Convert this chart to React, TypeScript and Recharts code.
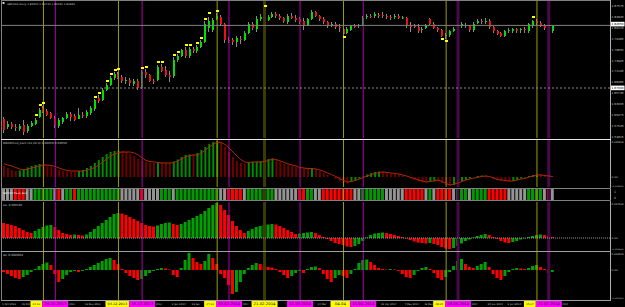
import React from 'react'
import { ComposedChart, Bar, Line, Scatter, XAxis, YAxis, ReferenceLine, Cell } from 'recharts'

// GBPCAD daily bars: [open, high, low, close]
const candles: number[][] = [
  [1.5925, 1.5975, 1.5575, 1.565], [1.5725, 1.5875, 1.5675, 1.58], [1.58, 1.585, 1.5675, 1.5725], [1.5725, 1.58, 1.5625, 1.57],
  [1.5675, 1.58, 1.5625, 1.575], [1.5775, 1.59, 1.5525, 1.56], [1.5625, 1.58, 1.5575, 1.575], [1.575, 1.5875, 1.5725, 1.5825],
  [1.58, 1.595, 1.5775, 1.59], [1.5975, 1.62, 1.595, 1.615], [1.62, 1.625, 1.6075, 1.61], [1.6125, 1.6175, 1.6, 1.6025],
  [1.6075, 1.61, 1.5925, 1.595], [1.595, 1.6, 1.57, 1.5775], [1.575, 1.595, 1.57, 1.59], [1.585, 1.5975, 1.58, 1.595],
  [1.595, 1.61, 1.5925, 1.605], [1.605, 1.61, 1.5875, 1.5975], [1.6, 1.605, 1.5875, 1.59], [1.5925, 1.62, 1.5925, 1.6025],
  [1.6025, 1.61, 1.595, 1.6], [1.6, 1.615, 1.595, 1.61], [1.6075, 1.625, 1.6025, 1.62], [1.6175, 1.6425, 1.6125, 1.64],
  [1.645, 1.6525, 1.6325, 1.6375], [1.64, 1.67, 1.6375, 1.665], [1.665, 1.6825, 1.6625, 1.6775], [1.6775, 1.7, 1.675, 1.695],
  [1.695, 1.71, 1.69, 1.705], [1.705, 1.71, 1.6925, 1.695], [1.6975, 1.7025, 1.6825, 1.6875], [1.6875, 1.6975, 1.68, 1.69],
  [1.69, 1.695, 1.675, 1.6825], [1.68, 1.6925, 1.675, 1.6875], [1.6875, 1.6925, 1.665, 1.67], [1.67, 1.715, 1.6675, 1.71],
  [1.71, 1.7175, 1.695, 1.7025], [1.7025, 1.705, 1.685, 1.6875], [1.6875, 1.6925, 1.68, 1.685], [1.69, 1.7275, 1.6875, 1.7225],
  [1.7225, 1.73, 1.71, 1.7125], [1.715, 1.725, 1.6975, 1.7025], [1.7025, 1.7125, 1.685, 1.6975], [1.7, 1.7475, 1.695, 1.74],
  [1.74, 1.755, 1.735, 1.75], [1.75, 1.7675, 1.7475, 1.765], [1.765, 1.7725, 1.745, 1.75], [1.75, 1.7725, 1.745, 1.7675],
  [1.7675, 1.7725, 1.7575, 1.7625], [1.7625, 1.7775, 1.7575, 1.7725], [1.7725, 1.79, 1.77, 1.785], [1.785, 1.8375, 1.7825, 1.83],
  [1.82, 1.8475, 1.81, 1.8375], [1.815, 1.845, 1.81, 1.84], [1.8425, 1.8575, 1.84, 1.85], [1.8475, 1.8525, 1.825, 1.83],
  [1.83, 1.8325, 1.7825, 1.79], [1.79, 1.7975, 1.7825, 1.7888], [1.79, 1.795, 1.7775, 1.785], [1.785, 1.8, 1.7725, 1.795],
  [1.7925, 1.8, 1.78, 1.79], [1.79, 1.8125, 1.7875, 1.8075], [1.8075, 1.835, 1.805, 1.83], [1.83, 1.835, 1.815, 1.82],
  [1.8175, 1.85, 1.81, 1.8425], [1.8425, 1.855, 1.8375, 1.8475], [1.8475, 1.8525, 1.8375, 1.8425], [1.84, 1.8525, 1.8375, 1.8475],
  [1.8475, 1.86, 1.845, 1.855], [1.855, 1.86, 1.845, 1.85], [1.85, 1.855, 1.84, 1.845], [1.845, 1.8475, 1.8325, 1.8375],
  [1.835, 1.855, 1.83, 1.85], [1.85, 1.8575, 1.8425, 1.845], [1.845, 1.8525, 1.835, 1.84], [1.8425, 1.8475, 1.83, 1.835],
  [1.8375, 1.845, 1.815, 1.825], [1.8275, 1.845, 1.825, 1.8425], [1.8425, 1.865, 1.84, 1.86], [1.86, 1.8625, 1.8475, 1.85],
  [1.85, 1.8525, 1.8375, 1.8425], [1.8425, 1.8475, 1.83, 1.835], [1.835, 1.8375, 1.82, 1.825], [1.8275, 1.835, 1.8225, 1.83],
  [1.83, 1.835, 1.8175, 1.8225], [1.8225, 1.83, 1.81, 1.82], [1.8175, 1.8225, 1.8025, 1.805], [1.8075, 1.8225, 1.805, 1.8175],
  [1.815, 1.8275, 1.8125, 1.825], [1.825, 1.83, 1.82, 1.8238], [1.825, 1.83, 1.82, 1.8275], [1.8275, 1.85, 1.825, 1.845],
  [1.8475, 1.855, 1.8425, 1.85], [1.85, 1.855, 1.845, 1.8488], [1.85, 1.86, 1.845, 1.855], [1.8525, 1.8575, 1.845, 1.8513],
  [1.8525, 1.86, 1.845, 1.85], [1.85, 1.855, 1.8425, 1.8475], [1.8475, 1.8525, 1.84, 1.8463], [1.8475, 1.855, 1.8425, 1.85],
  [1.85, 1.855, 1.8425, 1.845], [1.845, 1.85, 1.8425, 1.8463], [1.845, 1.8475, 1.82, 1.825], [1.8275, 1.835, 1.81, 1.8225],
  [1.825, 1.83, 1.82, 1.8225], [1.8225, 1.83, 1.8075, 1.8125], [1.815, 1.8225, 1.8075, 1.8175], [1.82, 1.83, 1.8175, 1.8275],
  [1.8425, 1.845, 1.8275, 1.83], [1.83, 1.835, 1.8175, 1.82], [1.82, 1.8225, 1.81, 1.815], [1.815, 1.8175, 1.7975, 1.8],
  [1.8, 1.8075, 1.7925, 1.8025], [1.8025, 1.815, 1.7975, 1.8125], [1.8125, 1.8225, 1.81, 1.8175], [1.8175, 1.8275, 1.815, 1.825],
  [1.825, 1.835, 1.82, 1.83], [1.8275, 1.8325, 1.82, 1.825], [1.825, 1.8275, 1.81, 1.815], [1.815, 1.835, 1.81, 1.83],
  [1.8325, 1.8425, 1.83, 1.8375], [1.8375, 1.8425, 1.83, 1.835], [1.835, 1.845, 1.83, 1.8375], [1.8375, 1.8425, 1.8175, 1.8225],
  [1.8225, 1.825, 1.8075, 1.8125], [1.8125, 1.815, 1.8025, 1.805], [1.8075, 1.81, 1.7975, 1.8], [1.8, 1.815, 1.7975, 1.8125],
  [1.8125, 1.82, 1.8075, 1.815], [1.8125, 1.82, 1.8075, 1.8175], [1.8175, 1.82, 1.8075, 1.8138], [1.815, 1.82, 1.8075, 1.8175],
  [1.8175, 1.8225, 1.8075, 1.815], [1.8125, 1.8325, 1.8075, 1.83], [1.8275, 1.84, 1.82, 1.8375], [1.8375, 1.8425, 1.8275, 1.8325],
  [1.8325, 1.8375, 1.8225, 1.825], [1.825, 1.83, 1.815, 1.82], [1.82, 1.8225, 1.81, 1.8125], [1.8125, 1.8275, 1.8075, 1.8265],
]

// yellow fractal marks: [bar index, price]
const fractalMarks: number[][] = [
  [8, 1.6025], [9, 1.6275], [10, 1.6325], [23, 1.6475], [24, 1.6575], [26, 1.6875], [27, 1.705], [28, 1.715], [29, 1.7175],
  [35, 1.72], [36, 1.7225], [39, 1.735], [40, 1.735], [43, 1.7525], [44, 1.76], [46, 1.7775], [47, 1.7775], [49, 1.7825],
  [50, 1.795], [51, 1.8425], [52, 1.8575], [54, 1.8625], [66, 1.875], [86, 1.7975], [111, 1.7925], [112, 1.7875], [134, 1.8475],
]

// indicator values, in thousandths
const macdMilli = [
  11, 9, 7, 6, 6.5, 8, 9.5, 11, 12, 13, 13, 12, 10.5, 8.5, 7, 6, 5.5, 5.5, 5.5, 6,
  7, 9, 11, 14, 17, 20, 23, 25, 26, 26.5, 26, 25, 23.5, 21, 18, 16, 15, 14.5, 14, 14.5,
  14.5, 14, 14, 15.5, 17.5, 20, 22, 22.5, 22.5, 24, 27, 30, 33, 35, 36, 34, 30, 25, 20, 16,
  14, 13.5, 14.5, 15, 15.5, 16, 17, 18, 18.5, 17, 15, 13, 12, 11, 10, 9, 8.5, 8.5, 9, 8,
  6, 4, 2, 0, -2, -4, -6, -6.5, -5, -3.5, -1.5, 0.5, 2.5, 4, 5, 5.5, 5.5, 4.5, 3.5, 3,
  2.5, 1.5, 0, -1.5, -3, -4.5, -5.5, -5.5, -4.5, -4, -4, -6, -8, -9, -8, -6.5, -4.5, -3, -1.5, 0,
  1, 1.5, 1.5, 0, -2, -3.5, -4, -4.5, -4.5, -4, -3, -1.5, -0.5, 1, 2, 2.5, 2.5, 2, 1, 0.5,
]
const signalMilli = [
  13.5, 12, 11, 9.5, 8, 7, 8, 9, 10, 11, 12, 12, 11.5, 10.5, 9, 7.5, 6.5, 6, 6, 6,
  6, 6.5, 8, 9.5, 12, 15, 18, 21, 23, 24.5, 25, 25, 25, 24, 22, 19, 16.5, 15.5, 15, 14.5,
  14, 14, 14, 14.5, 16, 18, 20, 21.5, 22, 22, 24, 27, 30, 32.5, 35, 34.5, 32.5, 29, 25, 21,
  17.5, 15, 14.5, 15, 15, 15, 15.5, 16.5, 18, 17.5, 16, 14.5, 13, 12, 11, 9.5, 9, 8.5, 8.5, 8,
  7, 5.5, 4, 2.5, 0.5, -1.5, -3.5, -5, -4.5, -3.5, -2, -0.5, 1, 2.5, 3.5, 4.5, 5, 4.5, 4, 3.5,
  3, 2, 1, -0.5, -1.5, -3, -4, -5, -4.5, -4, -3, -4.5, -6.5, -8, -7, -6, -4.5, -3, -2, -1,
  -0.5, 0.5, 1, 0.5, -1, -2.5, -3, -3.5, -4, -4, -3, -2, -1.5, 0, 1, 2, 2, 1.5, 1, 0.5,
]
const aoMilli = [
  15, 14, 13, 12, 10, 8, 6, 5, 7, 9, 11, 12.5, 13, 11, 8, 5, 4, 3, 3.5, 3,
  2.5, 3.5, 6, 9, 12, 15, 18, 21, 24, 25, 24.5, 23, 21, 19, 17, 15, 13, 12, 11.5, 12.5,
  14, 15, 15.5, 14, 13, 14, 16, 18, 20, 22, 24, 27, 30, 33, 35, 33, 28, 23, 17, 12,
  8, 5, 7, 9, 11, 12, 13, 13.5, 14, 13.5, 12, 10, 8, 6, 4, 4.5, 5, 5.5, 6, 5,
  3, 1, -1, -3, -5, -6, -7, -8.5, -9, -8, -6, -3, 0.5, 3, 4.5, 5, 5.5, 5, 4, 3,
  2, 1, -0.5, -2, -3.5, -4.5, -5, -5.5, -5, -6, -7, -9, -10.5, -11, -10, -8, -5.5, -3, -1.5, 0.5,
  2, 3, 4, 3, 1, -1, -3, -4.5, -5, -4, -3, -1.5, -0.5, 1, 2, 3, 3.5, 3, 2, 1,
]
const acMilli = [
  -2, -4, -6, -8, -9, -7, -5, -2, 1, 4, 6, 7.5, 5, -4, -12, -9, -5, -2, -1, -2,
  -1, 1, 3, 5, 7, 9, 11, 12, 10, 6, 1, -3, -6, -8, -10, -9, -6, -3, -1, 1,
  2, 1.5, 0.5, -5, -7, 2, 10, 17, 12, 8, 6, 9, 16, 12, 6, -4, -8, -15, -24, -22,
  -12, -4, 2, 5, 7, 6, 4, 3, 2.5, 1, -2, -5, -8, -6, -3, -1, -3, 1, 3, 3.5,
  2, -4, -9, -12, -8, -5, -6, -8, -4, 1, 7, 10, 10.5, 8, 5, 2, 1, 0.5, 1, 0.5,
  -1, -4, -7, -8, -5, -1, 2, 3, 1, -3, -8, -10, -7, -2, 4, 9, 11, 6, 3, 2,
  4, 6, 8, 3, -4, -8, -10, -6, -2, 1, 2, 1.5, 1, 2, 4, 5, 3, 1, -3, -2,
]
// trend bar state runs: G up, R down, N neutral
const trendRuns: [string, number][] = [
  ['N', 3], ['R', 3], ['N', 2], ['G', 5], ['N', 1], ['R', 1], ['N', 1], ['G', 2], ['R', 1], ['G', 11],
  ['N', 5], ['R', 1], ['N', 4], ['G', 3], ['N', 1], ['G', 11], ['N', 2], ['R', 4], ['N', 1], ['G', 7],
  ['N', 6], ['R', 2], ['G', 2], ['N', 2], ['R', 8], ['N', 2], ['G', 6], ['N', 5], ['R', 5], ['N', 1],
  ['G', 1], ['N', 1], ['R', 4], ['N', 1], ['G', 3], ['N', 1], ['G', 4], ['R', 5], ['N', 5], ['G', 4],
  ['N', 1], ['R', 1], ['N', 1],
]

const priceTicks = [1.87575, 1.84845, 1.82115, 1.79385, 1.76655, 1.73925, 1.71195, 1.68465, 1.65735, 1.63005, 1.60275, 1.57545, 1.54815]
const bidPrice = 1.8265
const levelPrice = 1.67
const macdTicks = [0.0355, 0, -0.009]
const aoTicks = [0.0345, 0, -0.0105]
const acTicks = [0.0165, 0, -0.0275]

const vLines = [
  { i: 10, kind: 'y', text: '22.10.2013' }, { i: 13, kind: 'm', text: '29.10.2013' },
  { i: 29, kind: 'y', text: '03.12.2013' }, { i: 35, kind: 'm', text: '16.12.2013' },
  { i: 54, kind: 'y', text: '27.01.2014' }, { i: 57, kind: 'm', text: '03.02.2014' },
  { i: 66, kind: 'dy', text: '21.02.2014' }, { i: 75, kind: 'm', text: '11.03.2014' },
  { i: 86, kind: 'y', text: '04.04.2014' }, { i: 91, kind: 'm', text: '15.04.2014' },
  { i: 112, kind: 'y', text: '28.05.2014' }, { i: 115, kind: 'dm', text: '03.06.2014' },
  { i: 135, kind: 'y', text: '15.07.2014' }, { i: 138, kind: 'dm', text: '21.07.2014' },
]
const dateLabels: [number, string][] = [
  [0, '1 Oct 2013'], [5, '15 Oct'], [17, '2013'], [21, '18 Nov 2013'], [39, '2013'], [43, '2 Jan 2014'],
  [48, '13 Jan'], [61, '2014'], [80, '24 Mar'], [96, '25 Apr 2014'], [102, '7 May 2014'],
  [107, '16 May'], [119, '2014'], [123, '20 Jun 2014'], [128, '2 Jul 2014'], [142, '2014'],
]

const PAD = 14
const N = candles.length
const trend = trendRuns.flatMap(([s, n]) => Array(n).fill(s))
const markMap = new Map(fractalMarks.map(([i, p]) => [i, p]))

const rows = Array.from({ length: N + PAD }, (_, i) => {
  if (i >= N) return { t: i }
  const [o, h, l, c] = candles[i]
  return {
    t: i, o, h, l, c, hl: [l, h],
    mark: markMap.has(i) ? markMap.get(i) : null,
    macd: macdMilli[i] / 1000, sig: signalMilli[i] / 1000,
    trend: trend[i], one: 1,
    ao: aoMilli[i] / 1000, ac: acMilli[i] / 1000,
  }
})

const W = 625
const BAND = (W - 17) / rows.length

const FONT = 'DejaVu Sans'
const TXT = '#c8c8c8'
const LINE_STYLE: Record<string, { stroke: string; width: number; box: string }> = {
  y: { stroke: '#a09a00', width: 1, box: '#ffff00' },
  m: { stroke: '#b000b0', width: 1, box: '#ff00ff' },
  dy: { stroke: '#3c3c00', width: 3, box: '#ffff00' },
  dm: { stroke: '#4a0a4a', width: 3, box: '#ff00ff' },
}
const TREND_COLOR: Record<string, string> = { G: '#009a00', R: '#ff0000', N: '#949494' }

const rising = (arr: number[], i: number) => i > 0 && arr[i] > arr[i - 1]

// tiny MT4-style text squeezed into a given width
function Tiny({ x, y, w, fill = TXT, anchor = 'start', children }: any) {
  const s = String(children)
  const fs = Math.min(3.6, w / (s.length * 0.62))
  const len = Math.min(w, s.length * fs * 0.62)
  return (
    <text x={x} y={y} fontSize={fs} fontFamily={FONT} fill={fill} textAnchor={anchor}
      textLength={len} lengthAdjust="spacingAndGlyphs">{s}</text>
  )
}

function Candle(props: any) {
  const { x, y, width, height, payload } = props
  if (!payload || payload.o == null) return null
  const { o, h, l, c } = payload
  const top = Math.min(y, y + height)
  const hh = Math.abs(height)
  const span = h - l || 1
  const yOf = (v: number) => top + ((h - v) / span) * hh
  const bodyTop = yOf(Math.max(o, c))
  const bodyH = Math.max(1, yOf(Math.min(o, c)) - bodyTop)
  const bx = Math.round(x)
  const fill = c > o ? '#00e000' : '#f01010'
  return (
    <g>
      <rect x={bx} y={top} width={1} height={hh} fill="#8a8a8a" />
      <rect x={bx} y={bodyTop} width={Math.max(2, width)} height={bodyH} fill={fill} />
    </g>
  )
}

function Mark({ cx, cy }: any) {
  if (!Number.isFinite(cx) || !Number.isFinite(cy)) return null
  return <rect x={Math.round(cx) - 1} y={Math.round(cy) - 1} width={3} height={2} fill="#ffff00" />
}

function PriceTick({ x, y, payload }: any) {
  const v = payload.value
  const boxed = v === bidPrice || v === levelPrice
  const ty = v === bidPrice ? y - 1.2 : y
  return (
    <g>
      {boxed && <rect x={x + 1} y={ty - 2.4} width={13.5} height={4.6} fill="#ffffff" />}
      <Tiny x={x + 1.6} y={ty + 1.2} w={12} fill={boxed ? '#000000' : TXT}>{v.toFixed(5)}</Tiny>
    </g>
  )
}

function ValueTick({ x, y, payload }: any) {
  const v = payload.value
  return <Tiny x={x + 1.6} y={y + 1.3} w={v === 0 ? 6 : 12}>{v === 0 ? '0.00' : v.toFixed(6)}</Tiny>
}

function TrendTick({ x, y, payload }: any) {
  const v = payload.value
  return <Tiny x={x + 4} y={v === 1 ? y + 4 : y - 1} w={2}>{String(v)}</Tiny>
}

const vMap = new Map(vLines.map((v) => [v.i, v]))
const dMap = new Map(dateLabels)
const timeTicks = [...dateLabels.map((d) => d[0]), ...vLines.map((v) => v.i)].sort((a, b) => a - b)

function TimeTick({ x, y, payload }: any) {
  const i = payload.value
  const v = vMap.get(i)
  if (v) {
    const next = vLines.find((w) => w.i > i)
    const vis = next ? Math.min(26, (next.i - i) * BAND) : 26
    const label = vis >= 22 ? v.text : v.text.slice(0, 5)
    return (
      <g>
        <rect x={x - 13} y={y} width={vis} height={7} fill={LINE_STYLE[v.kind].box} />
        <Tiny x={x - 13 + vis / 2} y={y + 4.8} w={vis - 4} fill="#000000" anchor="middle">{label}</Tiny>
      </g>
    )
  }
  const s = dMap.get(i) || ''
  return <Tiny x={x - 2} y={y + 4.8} w={s.length * 1.4}>{s}</Tiny>
}

const vRefs = () =>
  vLines.map((v) => (
    <ReferenceLine key={'v' + v.i} x={v.i} stroke={LINE_STYLE[v.kind].stroke} strokeWidth={LINE_STYLE[v.kind].width} />
  ))

export default function App() {
  const panel = (top: number): React.CSSProperties => ({ position: 'absolute', left: 0, top })
  return (
    <div style={{ position: 'absolute', left: 0, top: 0, width: W, height: 307, background: '#000', overflow: 'hidden' }}>
      <div style={panel(0)}>
        <ComposedChart width={W} height={139} data={rows} margin={{ top: 0, right: 0, bottom: 1, left: 2 }}>
          <XAxis dataKey="t" hide />
          <YAxis orientation="right" width={15} type="number" domain={[1.545, 1.89]} allowDataOverflow
            ticks={[...priceTicks, bidPrice, levelPrice]} interval={0} tickSize={0} tickMargin={0}
            axisLine={false} tickLine={false} tick={(p: any) => <PriceTick {...p} />} />
          {vRefs()}
          <ReferenceLine y={bidPrice} stroke="#808080" />
          <ReferenceLine y={levelPrice} stroke="#8c8c8c" strokeDasharray="2 2" />
          <Bar dataKey="hl" barSize={2} isAnimationActive={false} shape={(p: any) => <Candle {...p} />} />
          <Scatter dataKey="mark" isAnimationActive={false} shape={(p: any) => <Mark {...p} />} />
        </ComposedChart>
      </div>

      <div style={panel(139)}>
        <ComposedChart width={W} height={49} data={rows} margin={{ top: 1, right: 0, bottom: 1, left: 2 }}>
          <XAxis dataKey="t" hide />
          <YAxis orientation="right" width={15} type="number" domain={[-0.01, 0.037]} allowDataOverflow
            ticks={macdTicks} interval={0} tickSize={0} tickMargin={0} axisLine={false} tickLine={false}
            tick={(p: any) => <ValueTick {...p} />} />
          {vRefs()}
          <Bar dataKey="macd" barSize={2} isAnimationActive={false}>
            {rows.map((_, i) => (
              <Cell key={i} fill={rising(macdMilli, i) ? '#008c00' : '#6e0000'} />
            ))}
          </Bar>
          <Line dataKey="sig" stroke="#b42800" strokeWidth={1} dot={false} isAnimationActive={false} />
        </ComposedChart>
      </div>

      <div style={panel(188)}>
        <ComposedChart width={W} height={13} data={rows} margin={{ top: 1, right: 0, bottom: 1, left: 2 }}>
          <XAxis dataKey="t" hide />
          <YAxis orientation="right" width={15} type="number" domain={[0, 1]} ticks={[1, 0]} interval={0}
            tickSize={0} tickMargin={0} axisLine={false} tickLine={false} tick={(p: any) => <TrendTick {...p} />} />
          <Bar dataKey="one" barSize={3} isAnimationActive={false}>
            {rows.map((r: any, i) => (
              <Cell key={i} fill={TREND_COLOR[r.trend] || '#000'} />
            ))}
          </Bar>
          {vRefs()}
        </ComposedChart>
      </div>

      <div style={panel(201)}>
        <ComposedChart width={W} height={50} data={rows} margin={{ top: 1, right: 0, bottom: 0, left: 2 }}>
          <XAxis dataKey="t" hide />
          <YAxis orientation="right" width={15} type="number" domain={[-0.013, 0.036]} allowDataOverflow
            ticks={aoTicks} interval={0} tickSize={0} tickMargin={0} axisLine={false} tickLine={false}
            tick={(p: any) => <ValueTick {...p} />} />
          {vRefs()}
          <ReferenceLine y={0} stroke="#9a9a9a" strokeDasharray="1 1" />
          <Bar dataKey="ao" barSize={3} isAnimationActive={false}>
            {rows.map((_, i) => (
              <Cell key={i} fill={rising(aoMilli, i) ? '#00a000' : '#ff0000'} />
            ))}
          </Bar>
        </ComposedChart>
      </div>

      <div style={panel(251)}>
        <ComposedChart width={W} height={56} data={rows} margin={{ top: 1, right: 0, bottom: 0, left: 2 }}>
          <XAxis dataKey="t" height={7} ticks={timeTicks} interval={0} tickSize={0} tickMargin={0}
            axisLine={false} tickLine={false} tick={(p: any) => <TimeTick {...p} />} />
          <YAxis orientation="right" width={15} type="number" domain={[-0.03, 0.018]} allowDataOverflow
            ticks={acTicks} interval={0} tickSize={0} tickMargin={0} axisLine={false} tickLine={false}
            tick={(p: any) => <ValueTick {...p} />} />
          {vRefs()}
          <Bar dataKey="ac" barSize={3} isAnimationActive={false}>
            {rows.map((_, i) => (
              <Cell key={i} fill={rising(acMilli, i) ? '#00a000' : '#ff0000'} />
            ))}
          </Bar>
        </ComposedChart>
      </div>

      <svg width={W} height={307} style={{ position: 'absolute', left: 0, top: 0, pointerEvents: 'none' }}>
        <line x1={1} x2={611} y1={0.5} y2={0.5} stroke="#808080" />
        <line x1={1.5} x2={1.5} y1={0} y2={300} stroke="#808080" />
        <line x1={610.5} x2={610.5} y1={0} y2={301} stroke="#b0b0b0" />
        <line x1={1} x2={611} y1={139.5} y2={139.5} stroke="#e6e6e6" />
        <line x1={1} x2={611} y1={188.5} y2={188.5} stroke="#808080" />
        <line x1={1} x2={611} y1={200.5} y2={200.5} stroke="#808080" />
        <line x1={1} x2={611} y1={251.5} y2={251.5} stroke="#a0a0a0" />
        <line x1={1} x2={611} y1={300.5} y2={300.5} stroke="#a0a0a0" />
        <rect x={2.5} y={2} width={2} height={2} fill="#d0d0d0" />
        <Tiny x={7} y={4.8} w={68}>GBPCAD,Daily  1.82540 1.82720 1.82330 1.82650</Tiny>
        <Tiny x={3} y={143.8} w={64}>MACDmod_bars (12,26,9) 0.00050 0.00050</Tiny>
        <Tiny x={3} y={194.3} w={24} fill="#ffffff">GBPCAD Trend_Bars</Tiny>
        <Tiny x={3} y={205.8} w={19}>AO -0.000500</Tiny>
        <Tiny x={3} y={255.8} w={20}>AC 0.002064</Tiny>
      </svg>
    </div>
  )
}
